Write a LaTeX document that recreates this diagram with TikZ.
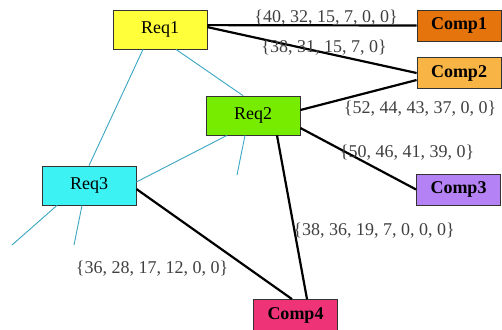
\documentclass[tikz,border=0pt]{standalone}
\usepackage{fontspec}
\setmainfont{Liberation Serif}
\usepackage{tikz}
\usetikzlibrary{positioning}
\definecolor{ReqYellow}{HTML}{FFFF3A}
\definecolor{ReqGreen}{HTML}{78EC00}
\definecolor{ReqCyan}{HTML}{3CF2F2}
\definecolor{CompOrange}{HTML}{E6740C}
\definecolor{CompGold}{HTML}{F8B444}
\definecolor{CompViolet}{HTML}{B482F4}
\definecolor{CompPink}{HTML}{EE3476}
\definecolor{LinkTeal}{HTML}{3AA6C2}

\begin{document}
\begin{tikzpicture}[x=0.5pt, y=-0.5pt,
    every node/.style={font=\fontsize{9}{10}\selectfont},
    req/.style={rectangle, draw=black!80, fill=#1, minimum width=47pt, minimum height=19.5pt, inner sep=0pt},
    comp/.style={rectangle, draw=black!80, fill=#1, minimum width=42pt, minimum height=15.5pt, inner sep=0pt, font=\fontsize{9}{10}\selectfont\bfseries},
    tie/.style={line width=1.1pt, draw=black},
    link/.style={line width=0.45pt, draw=LinkTeal},
    weight/.style={inner sep=0pt, text=black!75}
  ]
    \clip (0,0) rectangle (502,329);
    \fill[white] (0,0) rectangle (502,329);

    % requirement and component boxes
    \node[req=ReqYellow] (r1) at (160,29.5) {Req1};
    \node[req=ReqGreen] (r2) at (253,115.5) {Req2};
    \node[req=ReqCyan] (r3) at (89,185.5) {Req3};
    \node[comp=CompOrange] (c1) at (459,25.5) {Comp1};
    \node[comp=CompGold] (c2) at (459,73) {Comp2};
    \node[comp=CompViolet] (c3) at (458.5,189.5) {Comp3};
    \node[comp=CompPink] (c4) at (295.5,315) {Comp4};

    % loose ends of the thin links
    \coordinate (e2) at (237,175);
    \coordinate (e3a) at (12,245);
    \coordinate (e3b) at (74,245);

    % links between requirements
    \draw[link] ([xshift=-8.5pt]r1.south) -- (r3.north);
    \draw[link] ([xshift=8pt]r1.south) -- ([xshift=-5pt]r2.north);
    \draw[link] ([xshift=-13pt]r2.south) -- ([yshift=1.75pt]r3.east);
    \draw[link] ([xshift=-4pt]r2.south) -- (e2);
    \draw[link] ([xshift=-16pt]r3.south) -- (e3a);
    \draw[link] ([xshift=-3.5pt]r3.south) -- (e3b);

    % requirement to component ties
    \draw[tie] ([yshift=2.2pt]r1.east) -- (c1.west);
    \draw[tie] ([yshift=1.2pt]r1.east) -- (c2.west);
    \draw[tie] ([yshift=2.75pt]r2.east) -- ([yshift=-3.5pt]c2.west);
    \draw[tie] ([yshift=-6.25pt]r2.east) -- (c3.west);
    \draw[tie] ([xshift=12pt]r2.south) -- ([xshift=5.75pt]c4.north);
    \draw[tie] ([yshift=-1.75pt]r3.east) -- ([xshift=-1.75pt]c4.north);

    % weight vectors
    \node[weight] (w1) at (326,18) {\{40, 32, 15, 7, 0, 0\}};
    \node[weight] (w2) at (324,48) {\{38, 31, 15, 7, 0\}};
    \node[weight] (w3) at (420,109) {\{52, 44, 43, 37, 0, 0\}};
    \node[weight] (w4) at (407,153) {\{50, 46, 41, 39, 0\}};
    \node[weight] (w5) at (374,231) {\{38, 36, 19, 7, 0, 0, 0\}};
    \node[weight] (w6) at (152,269) {\{36, 28, 17, 12, 0, 0\}};
  \end{tikzpicture}
\end{document}
